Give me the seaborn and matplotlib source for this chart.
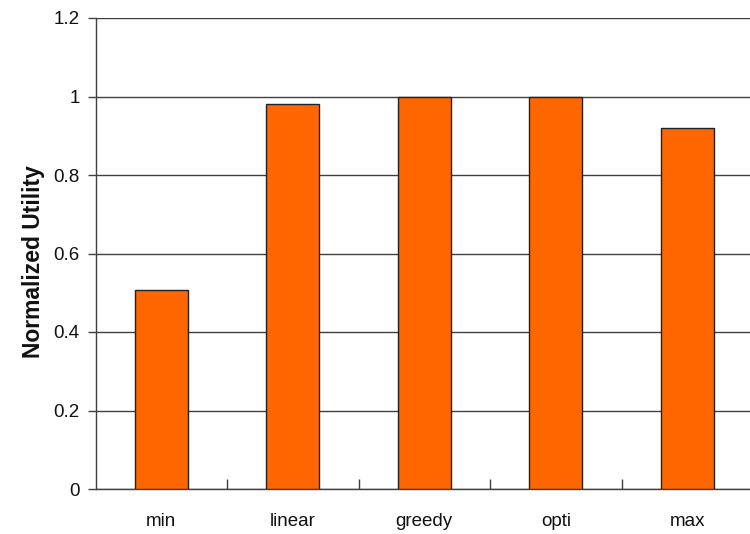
import matplotlib
matplotlib.use("Agg")
import matplotlib.pyplot as plt
import seaborn as sns
import pandas as pd
import numpy as np
from matplotlib.ticker import FixedLocator

methods = ["min", "linear", "greedy", "opti", "max"]
utility = [0.507, 0.98, 1.0, 1.0, 0.92]
y_ticks = [0, 0.2, 0.4, 0.6, 0.8, 1, 1.2]
y_tick_labels = ["0", "0.2", "0.4", "0.6", "0.8", "1", "1.2"]

sns.set_theme(style="white")
plt.rcParams["font.family"] = ["Liberation Sans", "DejaVu Sans"]

df = pd.DataFrame({"method": methods, "utility": utility})

fig = plt.figure(figsize=(7.5, 5.34), dpi=100)
ax = fig.add_axes([95.5 / 750, 45 / 534, 657.5 / 750, 471 / 534])

sns.barplot(data=df, x="method", y="utility", color="#FF6600", width=0.4,
            edgecolor="#222222", linewidth=1.0, saturation=1, ax=ax, zorder=3)

ax.set_ylim(0, 1.2)
ax.set_xlim(-0.5, len(methods) - 0.5)
ax.set_yticks(y_ticks)
ax.set_yticklabels(y_tick_labels)
ax.yaxis.grid(True, color="#404040", linewidth=1.0, zorder=0)
ax.set_axisbelow(True)

for side in ["top", "right"]:
    ax.spines[side].set_visible(False)
for side in ["left", "bottom"]:
    ax.spines[side].set_color("#404040")
    ax.spines[side].set_linewidth(1.0)

ax.tick_params(axis="y", which="major", direction="out", length=5.5, width=1,
               color="#404040", labelsize=13.5, pad=6, left=True,
               labelcolor="#111111")
ax.tick_params(axis="x", which="major", length=0, labelsize=13.5, pad=17,
               labelcolor="#111111")
ax.xaxis.set_minor_locator(FixedLocator(np.arange(0.5, len(methods) - 0.5, 1.0)))
ax.tick_params(axis="x", which="minor", direction="in", length=7, width=1,
               color="#404040", bottom=True)

ax.set_xlabel("")
ax.set_ylabel("Normalized Utility", fontsize=16.5, fontweight="bold",
              labelpad=6, color="#111111")
ax.yaxis.label.set_y(0.482)

fig.savefig("out.png", dpi=100)
